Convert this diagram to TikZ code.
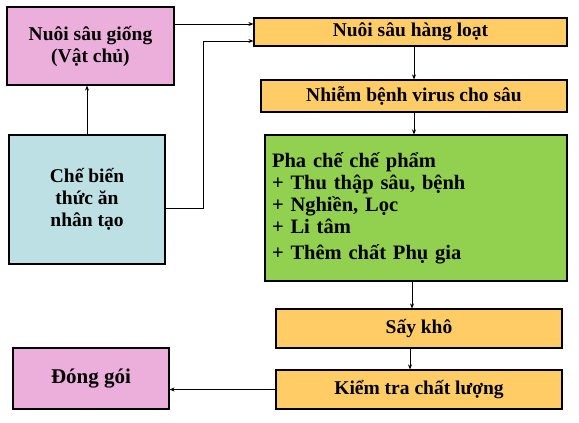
\documentclass[tikz,border=0pt]{standalone}
\usepackage{fontspec}
\setmainfont{Liberation Serif}
\usetikzlibrary{arrows.meta,calc}
\definecolor{pinkbox}{HTML}{ECAEDB}
\definecolor{bluebox}{HTML}{BCE0E4}
\definecolor{orangebox}{HTML}{FFCC66}
\definecolor{greenbox}{HTML}{92D050}
\tikzset{
  box/.style={draw=black, line width=1.2pt, inner sep=0pt, align=center,
    font=\fontsize{19.5}{22}\selectfont\bfseries},
  arr/.style={-{Stealth[length=5pt,width=4pt]}, line width=0.9pt},
}
\begin{document}
\begin{tikzpicture}[x=1pt,y=-1pt]
\useasboundingbox (0,0) rectangle (579,423);
\node[box, fill=pinkbox, minimum width=167pt, minimum height=78pt] (A) at (90.5,46) {Nuôi sâu giống\\(Vật chủ)};
\node[box, fill=bluebox, minimum width=156pt, minimum height=129pt] (B) at (87,199.5) {Chế biến\\thức ăn\\ nhân tạo};
\node[box, fill=orangebox, minimum width=313pt, minimum height=28pt] (C) at (410.5,32) {Nuôi sâu hàng loạt};
\node[box, fill=orangebox, minimum width=306pt, minimum height=32pt] (D) at (414,96) {Nhiễm bệnh virus cho sâu};
\node[box, fill=greenbox, minimum width=302pt, minimum height=146pt, text width=288pt, align=left, inner xsep=7pt, font=\fontsize{20.5}{22}\selectfont\bfseries] (E) at (416,208) {Pha chế chế phẩm\\+ Thu thập sâu, bệnh\\+ Nghiền, Lọc\\+ Li tâm\\[4pt]+ Thêm chất Phụ gia};
\node[box, fill=orangebox, minimum width=286pt, minimum height=39pt] (F) at (419,328.5) {Sấy khô};
\node[box, fill=orangebox, minimum width=286pt, minimum height=39pt] (G) at (419,389.5) {Kiểm tra chất lượng};
\node[box, fill=pinkbox, minimum width=156pt, minimum height=61pt, font=\fontsize{21}{24}\selectfont\bfseries] (H) at (91,378.5) {Đóng gói};
\coordinate (c1) at ([yshift=8pt]C.west);
\coordinate (c2) at ([yshift=-9pt]C.west);
\draw[arr] (A.east |- c1) -- (c1);
\draw[arr] ([yshift=-8.5pt]B.east) -| ($(c2)+(-50,0)$) -- (c2);
\draw[arr] (B.north) -- (B.north |- A.south);
\draw[arr] (D.north |- C.south) -- (D.north);
\draw[arr] (D.south) -- (D.south |- E.north);
\draw[arr] ([xshift=-4pt]E.south) -- ([xshift=-4pt]E.south |- F.north);
\draw[arr] ([xshift=-9pt]F.south) -- ([xshift=-9pt]F.south |- G.north);
\draw[arr] (G.west) -- (G.west -| H.east);
\end{tikzpicture}
\end{document}
